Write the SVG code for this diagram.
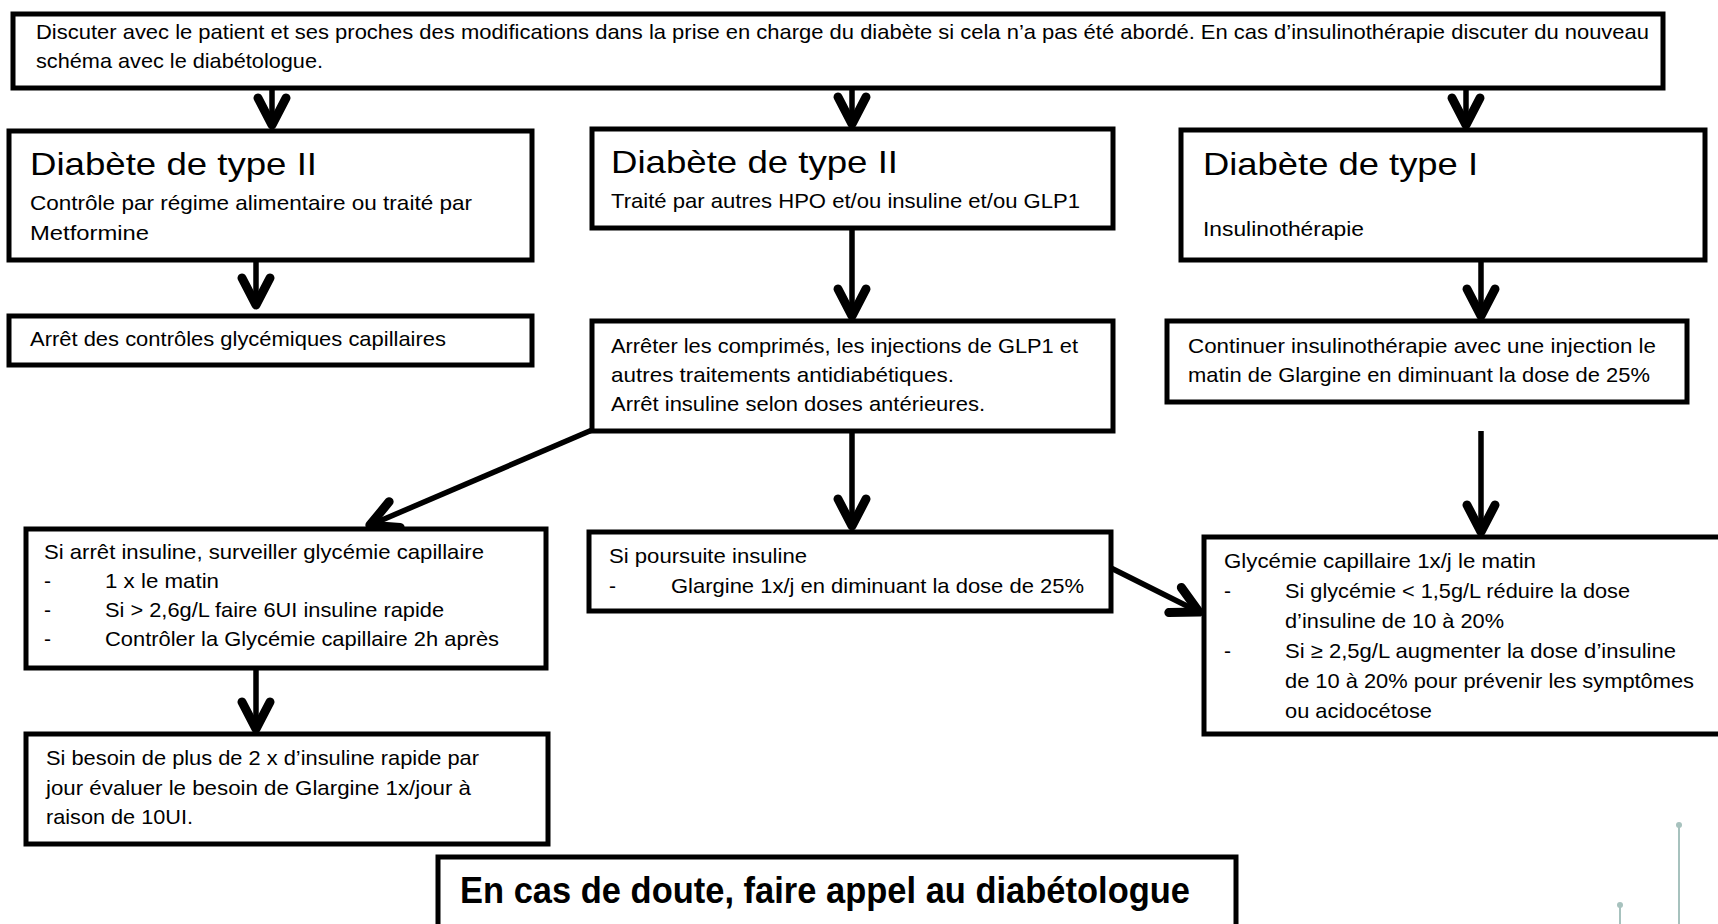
<svg xmlns="http://www.w3.org/2000/svg" width="1718" height="924" viewBox="0 0 1718 924">
<style>
.box{fill:#fff;stroke:#000;stroke-width:5}
.t{font-family:"Liberation Sans",Arial,sans-serif;font-size:21px;fill:#000}
.h{font-family:"Liberation Sans",Arial,sans-serif;font-size:32px;fill:#000}
.b{font-family:"Liberation Sans",Arial,sans-serif;font-size:37px;font-weight:bold;fill:#000}
.c{stroke:#000;stroke-width:5.5;fill:none}
.wm{stroke:#a7c2be;stroke-width:2;fill:none}
</style>
<defs>
<marker id="ah" markerUnits="userSpaceOnUse" viewBox="-40 -25 46 50" refX="0" refY="0" markerWidth="46" markerHeight="50" orient="auto" overflow="visible">
<path d="M-29,-14 L-2,0 L-29,14" fill="none" stroke="#000" stroke-width="9" stroke-linecap="round" stroke-linejoin="round"/>
</marker>
</defs>
<rect width="1718" height="924" fill="#fff"/>
<g id="watermark">
<line class="wm" x1="1679" y1="825" x2="1679" y2="924"/>
<circle cx="1679" cy="825" r="3" fill="#a7c2be"/>
<line class="wm" x1="1620" y1="905" x2="1620" y2="924"/>
<circle cx="1620" cy="905" r="3" fill="#a7c2be"/>
</g>
<g id="connectors">
<line class="c" x1="272" y1="88" x2="272" y2="127" marker-end="url(#ah)"/>
<line class="c" x1="852" y1="88" x2="852" y2="126" marker-end="url(#ah)"/>
<line class="c" x1="1466" y1="88" x2="1466" y2="127" marker-end="url(#ah)"/>
<line class="c" x1="256" y1="260" x2="256" y2="307" marker-end="url(#ah)"/>
<line class="c" x1="852" y1="228" x2="852" y2="318" marker-end="url(#ah)"/>
<line class="c" x1="1481" y1="260" x2="1481" y2="318" marker-end="url(#ah)"/>
<line class="c" x1="592" y1="430" x2="368" y2="526" marker-end="url(#ah)"/>
<line class="c" x1="852" y1="431" x2="852" y2="528" marker-end="url(#ah)"/>
<line class="c" x1="1481" y1="431" x2="1481" y2="534" marker-end="url(#ah)"/>
<line class="c" x1="1111" y1="568" x2="1201" y2="613" marker-end="url(#ah)"/>
<line class="c" x1="256" y1="668" x2="256" y2="731" marker-end="url(#ah)"/>
</g>
<g id="n-top">
<rect class="box" x="13" y="14" width="1650" height="74"/>
<text class="t" x="36" y="39" textLength="1613" lengthAdjust="spacingAndGlyphs">Discuter avec le patient et ses proches des modifications dans la prise en charge du diabète si cela n’a pas été abordé. En cas d’insulinothérapie discuter du nouveau</text>
<text class="t" x="36" y="68" textLength="287" lengthAdjust="spacingAndGlyphs">schéma avec le diabétologue.</text>
</g>
<g id="n-t2a">
<rect class="box" x="9" y="131" width="523" height="129"/>
<text class="h" x="30" y="175" textLength="287" lengthAdjust="spacingAndGlyphs">Diabète de type II</text>
<text class="t" x="30" y="210" textLength="442" lengthAdjust="spacingAndGlyphs">Contrôle par régime alimentaire ou traité par</text>
<text class="t" x="30" y="240" textLength="119" lengthAdjust="spacingAndGlyphs">Metformine</text>
</g>
<g id="n-t2b">
<rect class="box" x="592" y="129" width="521" height="99"/>
<text class="h" x="611" y="173" textLength="287" lengthAdjust="spacingAndGlyphs">Diabète de type II</text>
<text class="t" x="611" y="208" textLength="469" lengthAdjust="spacingAndGlyphs">Traité par autres HPO et/ou insuline et/ou GLP1</text>
</g>
<g id="n-t1">
<rect class="box" x="1181" y="130" width="524" height="130"/>
<text class="h" x="1203" y="175" textLength="275" lengthAdjust="spacingAndGlyphs">Diabète de type I</text>
<text class="t" x="1203" y="236" textLength="161" lengthAdjust="spacingAndGlyphs">Insulinothérapie</text>
</g>
<g id="n-arret-ctrl">
<rect class="box" x="9" y="316" width="523" height="49"/>
<text class="t" x="30" y="346" textLength="416" lengthAdjust="spacingAndGlyphs">Arrêt des contrôles glycémiques capillaires</text>
</g>
<g id="n-arreter">
<rect class="box" x="592" y="321" width="521" height="110"/>
<text class="t" x="611" y="353" textLength="467" lengthAdjust="spacingAndGlyphs">Arrêter les comprimés, les injections de GLP1 et</text>
<text class="t" x="611" y="382" textLength="343" lengthAdjust="spacingAndGlyphs">autres traitements antidiabétiques.</text>
<text class="t" x="611" y="411" textLength="374" lengthAdjust="spacingAndGlyphs">Arrêt insuline selon doses antérieures.</text>
</g>
<g id="n-continuer">
<rect class="box" x="1167" y="321" width="520" height="81"/>
<text class="t" x="1188" y="353" textLength="468" lengthAdjust="spacingAndGlyphs">Continuer insulinothérapie avec une injection le</text>
<text class="t" x="1188" y="382" textLength="462" lengthAdjust="spacingAndGlyphs">matin de Glargine en diminuant la dose de 25%</text>
</g>
<g id="n-si-arret">
<rect class="box" x="26" y="529" width="520" height="139"/>
<text class="t" x="44" y="559" textLength="440" lengthAdjust="spacingAndGlyphs">Si arrêt insuline, surveiller glycémie capillaire</text>
<text class="t" x="44" y="588">-</text>
<text class="t" x="105" y="588" textLength="114" lengthAdjust="spacingAndGlyphs">1 x le matin</text>
<text class="t" x="44" y="617">-</text>
<text class="t" x="105" y="617" textLength="339" lengthAdjust="spacingAndGlyphs">Si &gt; 2,6g/L faire 6UI insuline rapide</text>
<text class="t" x="44" y="646">-</text>
<text class="t" x="105" y="646" textLength="394" lengthAdjust="spacingAndGlyphs">Contrôler la Glycémie capillaire 2h après</text>
</g>
<g id="n-si-poursuite">
<rect class="box" x="589" y="532" width="522" height="79"/>
<text class="t" x="609" y="563" textLength="198" lengthAdjust="spacingAndGlyphs">Si poursuite insuline</text>
<text class="t" x="609" y="593">-</text>
<text class="t" x="671" y="593" textLength="413" lengthAdjust="spacingAndGlyphs">Glargine 1x/j en diminuant la dose de 25%</text>
</g>
<g id="n-glycemie">
<rect class="box" x="1204" y="537" width="530" height="197"/>
<text class="t" x="1224" y="568" textLength="312" lengthAdjust="spacingAndGlyphs">Glycémie capillaire 1x/j le matin</text>
<text class="t" x="1224" y="598">-</text>
<text class="t" x="1285" y="598" textLength="345" lengthAdjust="spacingAndGlyphs">Si glycémie &lt; 1,5g/L réduire la dose</text>
<text class="t" x="1285" y="628" textLength="219" lengthAdjust="spacingAndGlyphs">d’insuline de 10 à 20%</text>
<text class="t" x="1224" y="658">-</text>
<text class="t" x="1285" y="658" textLength="391" lengthAdjust="spacingAndGlyphs">Si ≥ 2,5g/L augmenter la dose d’insuline</text>
<text class="t" x="1285" y="688" textLength="409" lengthAdjust="spacingAndGlyphs">de 10 à 20% pour prévenir les symptômes</text>
<text class="t" x="1285" y="718" textLength="147" lengthAdjust="spacingAndGlyphs">ou acidocétose</text>
</g>
<g id="n-si-besoin">
<rect class="box" x="26" y="734" width="522" height="110"/>
<text class="t" x="46" y="765" textLength="433" lengthAdjust="spacingAndGlyphs">Si besoin de plus de 2 x d’insuline rapide par</text>
<text class="t" x="46" y="795" textLength="425" lengthAdjust="spacingAndGlyphs">jour évaluer le besoin de Glargine 1x/jour à</text>
<text class="t" x="46" y="824" textLength="147" lengthAdjust="spacingAndGlyphs">raison de 10UI.</text>
</g>
<g id="n-doute">
<rect class="box" x="438" y="857" width="798" height="90"/>
<text class="b" x="460" y="903" textLength="730" lengthAdjust="spacingAndGlyphs">En cas de doute, faire appel au diabétologue</text>
</g>
</svg>
